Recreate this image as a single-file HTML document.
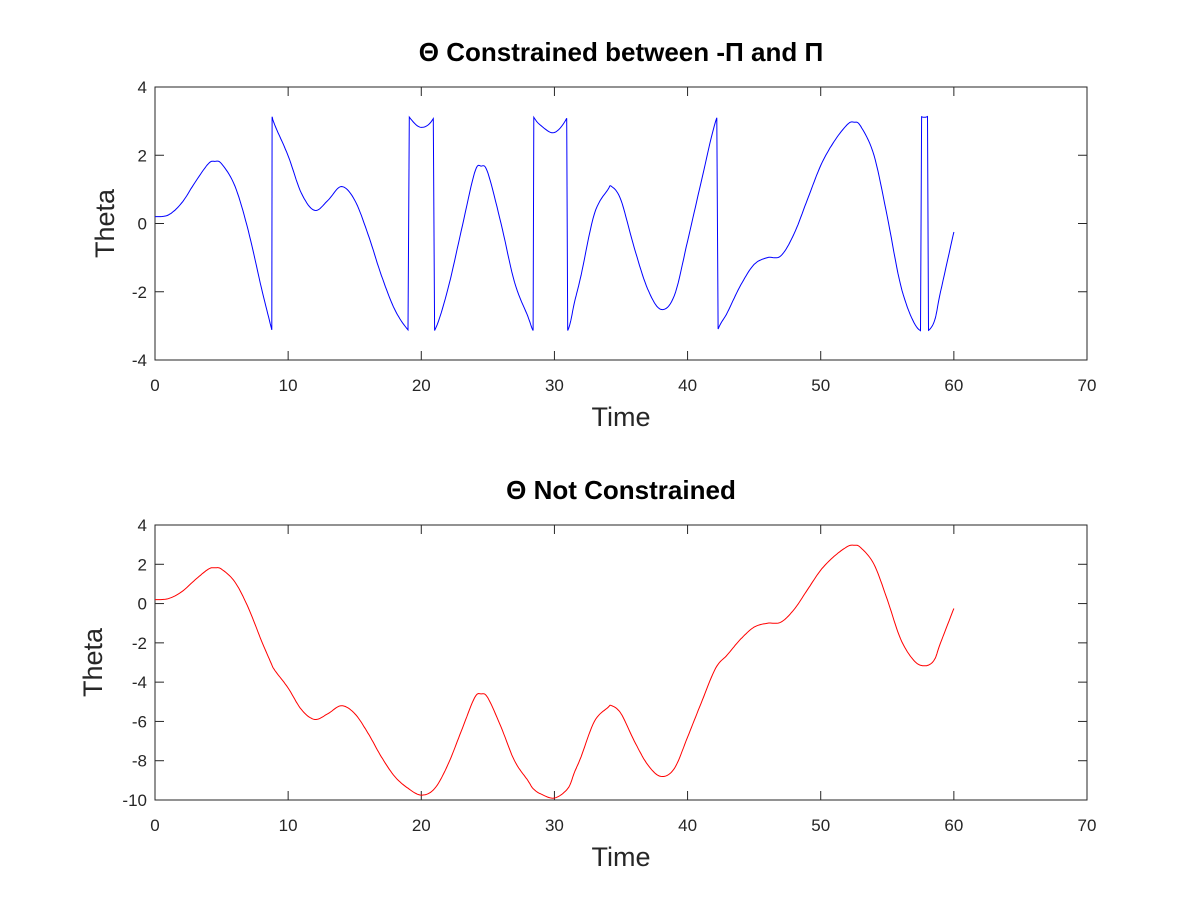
<!DOCTYPE html>
<html><head><meta charset="utf-8"><style>
body{margin:0;background:#fff}
svg{display:block;font-family:"Liberation Sans",sans-serif}
</style></head><body>
<svg id="c" width="1200" height="900"></svg>
<script>
const times=[0,1,2,3,4,4.5,5,6,7,8,8.7,9,10,11,12,13,14,15,16,17,18,19,20,21,22,23,24,24.5,25,26,27,28,28.4,29,30,31,31.5,32,33,34,34.3,35,36,37,38,39,40,41,42.1,43,44,45,46,47,48,49,50,51,52,52.5,53,54,55,56,57,57.8,58.5,59,60];
const theta=[0.2,0.25,0.6,1.2,1.75,1.82,1.75,1.1,-0.2,-1.9,-3.0,-3.4,-4.3,-5.4,-5.9,-5.6,-5.2,-5.6,-6.6,-7.8,-8.8,-9.4,-9.75,-9.42,-8.2,-6.5,-4.8,-4.6,-4.8,-6.3,-8.0,-9.0,-9.42,-9.7,-9.9,-9.42,-8.6,-7.8,-6.0,-5.3,-5.2,-5.6,-7.0,-8.2,-8.8,-8.4,-6.8,-5.1,-3.3,-2.6,-1.8,-1.2,-1.0,-0.95,-0.3,0.7,1.7,2.4,2.9,2.97,2.85,2.0,0.2,-1.8,-2.9,-3.17,-2.9,-2.0,-0.25];
const xTicks=[0,10,20,30,40,50,60,70];
const yTicksTop=[-4,-2,0,2,4];
const yTicksBot=[-10,-8,-6,-4,-2,0,2,4];
const NS="http://www.w3.org/2000/svg";
const svg=document.getElementById('c');
function mk(t,a,p){const e=document.createElementNS(NS,t);for(const k in a)e.setAttribute(k,a[k]);(p||svg).appendChild(e);return e;}
function dense(){const out=[];for(let i=0;i<times.length-1;i++){const p0=i>0?i-1:i,p3=i+2<times.length?i+2:i+1;
 for(let s=0;s<10;s++){const u=s/10,u2=u*u,u3=u2*u;
  const f=(a,b,c,d)=>0.5*(2*b+(-a+c)*u+(2*a-5*b+4*c-d)*u2+(-a+3*b-3*c+d)*u3);
  out.push([f(times[p0],times[i],times[i+1],times[p3]),f(theta[p0],theta[i],theta[i+1],theta[p3])]);}}
 out.push([times[times.length-1],theta[theta.length-1]]);return out;}
const wrap=v=>((v+Math.PI)%(2*Math.PI)+2*Math.PI)%(2*Math.PI)-Math.PI;
function panel(name,top,bot,ymin,ymax,yt,title,color,wrapIt,ylOff){
 const g=mk('g',{});
 const L=155,R=1087;
 const sx=t=>L+(t-0)/70*(R-L), sy=v=>bot-(v-ymin)/(ymax-ymin)*(bot-top);
 const box=mk('rect',{x:L,y:top,width:R-L,height:bot-top,fill:'none',stroke:'#262626','stroke-width':1},g);
 
 xTicks.forEach(t=>{const x=sx(t);mk('line',{x1:x,x2:x,y1:bot,y2:bot-9,stroke:'#262626'},g);mk('line',{x1:x,x2:x,y1:top,y2:top+9,stroke:'#262626'},g);
  const tx=mk('text',{x:x,y:bot+31,'text-anchor':'middle','font-size':17,fill:'#262626'},g);tx.textContent=t;
  });
 yt.forEach(v=>{const y=sy(v);mk('line',{x1:L,x2:L+9,y1:y,y2:y,stroke:'#262626'},g);mk('line',{x1:R,x2:R-9,y1:y,y2:y,stroke:'#262626'},g);
  const tx=mk('text',{x:L-8,y:y+6,'text-anchor':'end','font-size':17,fill:'#262626'},g);tx.textContent=v;
  });
 const d=dense().map(([t,v])=>[sx(t),sy(wrapIt?wrap(v):v)]);
 const ln=mk('polyline',{points:d.map(p=>p[0].toFixed(1)+','+p[1].toFixed(1)).join(' '),fill:'none',stroke:color,'stroke-width':1},g);
 
 const ti=mk('text',{x:(L+R)/2,y:top-26,'text-anchor':'middle','font-size':26,'font-weight':'bold',fill:'#000'},g);ti.textContent=title;
 
 const xl=mk('text',{x:(L+R)/2,y:bot+66,'text-anchor':'middle','font-size':27,fill:'#262626'},g);xl.textContent='Time';
 
 const cy=(top+bot)/2;const yl=mk('text',{x:0,y:0,transform:`translate(${L-ylOff},${cy}) rotate(-90)`,'text-anchor':'middle','font-size':27,fill:'#262626'},g);yl.textContent='Theta';
 
}
panel('top-panel',87,360,-4,4,yTicksTop,'Θ Constrained between -Π and Π','#0000ff',true,41);
panel('bottom-panel',525,800,-10,4,yTicksBot,'Θ Not Constrained','#ff0000',false,53);
</script>
</body></html>
